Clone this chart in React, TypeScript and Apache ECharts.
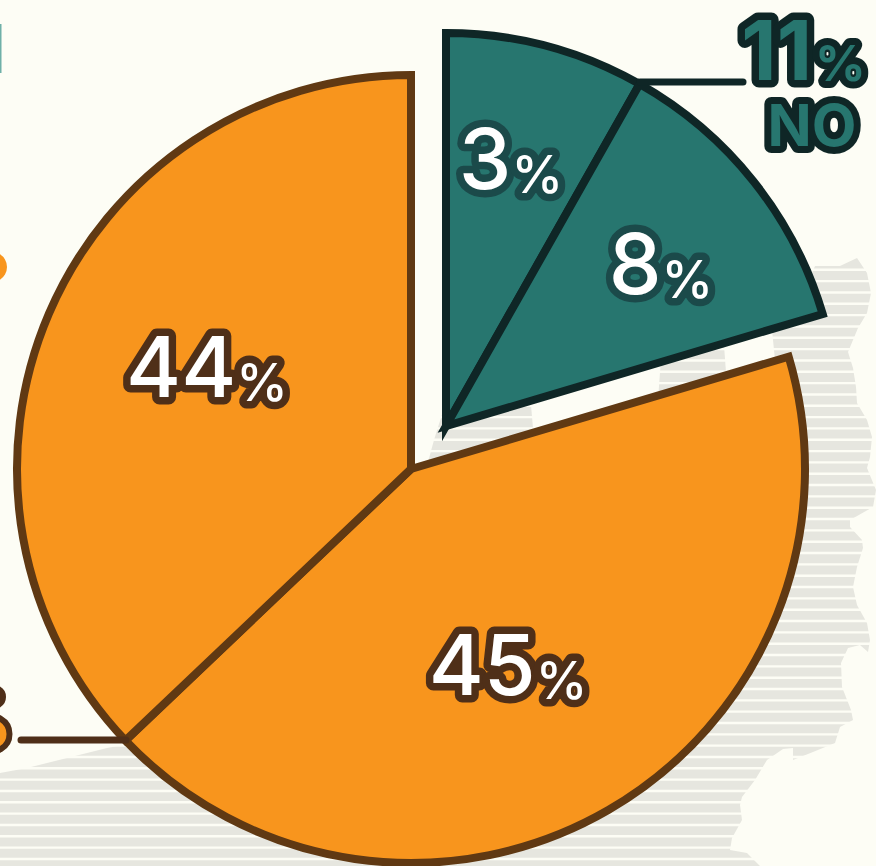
import React, { useEffect, useRef } from "react";
import * as echarts from "echarts";

// Printed percentages
const noLabels = [3, 8];
const yesLabels = [45, 44];
const noNames = ["No, part A", "No, part B"];
const yesNames = ["Yes, part A", "Yes, part B"];
// Share of the circle each wedge really occupies in the picture (the drawing is not to scale)
const noShares = [8.2, 12.2];
const yesShares = [42.5, 37.1];
const totalNumber = "11";
const totalUnit = "%";
const totalName = "NO";

const BG = "#fdfdf5";
const TEAL = "#27766f";
const TEAL_DARK = "#0f2626";
const TEAL_TEXT = "#1b4a4a";
const ORANGE = "#f8951d";
const BROWN = "#603913";
const BROWN_DARK = "#4f2f18";
const GREY = "#e6e6df";
const FONT = "Inter, 'Noto Sans', sans-serif";

const silhouetteMain = [
  [772, 330], [800, 300], [815, 266], [840, 266], [857, 258], [867, 273], [871, 293], [867, 313],
  [858, 328], [848, 352], [853, 368], [856, 387], [857, 403], [867, 420], [872, 437], [870, 457],
  [867, 468], [876, 490], [873, 507], [850, 520], [850, 527], [862, 540], [863, 548], [857, 567],
  [853, 587], [857, 605], [867, 623], [870, 640], [868, 652], [860, 645], [848, 648], [841, 663],
  [842, 687], [851, 710], [853, 720], [840, 727], [835, 743], [813, 752], [793, 760], [793, 748],
  [783, 749], [767, 760], [755, 780], [742, 797], [740, 805], [742, 820], [732, 838], [730, 850],
  [747, 853], [760, 866], [0, 866], [0, 773], [27, 768], [107, 748], [123, 745], [400, 600], [775, 360],
];
const silhouetteMiddle = [[662, 345], [724, 345], [728, 400], [658, 400]];
const silhouetteLeft = [[445, 405], [531, 405], [534, 440], [428, 462], [434, 440]];

function pieLabel(color: string, labels: number[], spots: number[][]) {
  return {
    label: {
      show: true,
      position: "inside" as const,
      formatter: (p: any) => `{n|${labels[p.dataIndex]}}{p|%}`,
      rich: {
        n: { fontFamily: FONT, fontSize: 84, fontWeight: 500, color: "#fff", textBorderColor: color, textBorderWidth: 15, lineHeight: 84 },
        p: { fontFamily: FONT, fontSize: 52, fontWeight: 500, color: "#fff", textBorderColor: color, textBorderWidth: 15, lineHeight: 70, verticalAlign: "bottom" },
      },
    },
    labelLine: { show: false },
    labelLayout: (p: any) => ({ x: spots[p.dataIndex][0], y: spots[p.dataIndex][1], align: "center", verticalAlign: "middle" }),
  };
}

export default function App() {
  const ref = useRef<HTMLDivElement>(null);
  useEffect(() => {
    document.body.style.margin = "0";
    const chart = echarts.init(ref.current!, undefined, { renderer: "svg" });
    const stripes: any[] = [];
    for (let k = 0; k < 56; k++) {
      const y = 269.8 + k * 11.33;
      stripes.push({ type: "line", z: 1, silent: true, shape: { x1: 0, y1: y, x2: 876, y2: y }, style: { stroke: BG, lineWidth: 2.4 } });
    }
    const startNo = 90;
    const noSpan = (noShares[0] + noShares[1]) * 3.6;
    const boundary = startNo - noSpan;
    const roundStrokes = () => {
      ref.current?.querySelectorAll("text").forEach((t) => {
        t.setAttribute("stroke-linejoin", "round");
        t.setAttribute("stroke-linecap", "round");
        t.setAttribute("paint-order", "stroke");
      });
    };
    chart.on("finished", roundStrokes);
    chart.setOption({
      animation: false,
      backgroundColor: BG,
      graphic: [
        ...[silhouetteMain, silhouetteMiddle, silhouetteLeft].map((points) => ({
          type: "polygon", z: 0, silent: true, shape: { points }, style: { fill: GREY },
        })),
        ...stripes,
        { type: "rect", z: 1, silent: true, shape: { x: 0, y: 24, width: 1.5, height: 49 }, style: { fill: "#6fb0a8" } },
        { type: "circle", z: 1, silent: true, shape: { cx: -8, cy: 734, r: 17.5 }, style: { fill: ORANGE, stroke: BROWN_DARK, lineWidth: 6 } },
        { type: "circle", z: 1, silent: true, shape: { cx: -8, cy: 267, r: 15 }, style: { fill: ORANGE } },
        { type: "circle", z: 1, silent: true, shape: { cx: -6, cy: 697, r: 9 }, style: { fill: ORANGE, stroke: BROWN_DARK, lineWidth: 6 } },
        { type: "line", z: 10, silent: true, shape: { x1: 21, y1: 740, x2: 126, y2: 740 }, style: { stroke: BROWN_DARK, lineWidth: 7, lineCap: "round" } },
        { type: "line", z: 10, silent: true, shape: { x1: 640, y1: 82, x2: 743, y2: 82 }, style: { stroke: TEAL_DARK, lineWidth: 7, lineCap: "round" } },
        {
          type: "text", z: 10, silent: true, x: 812, y: 91,
          style: { text: totalNumber, font: `700 82px ${FONT}`, fill: TEAL, stroke: TEAL_DARK, lineWidth: 15, textAlign: "right", textVerticalAlign: "bottom", strokeFirst: true },
        },
        {
          type: "text", z: 10, silent: true, x: 815, y: 88,
          style: { text: totalUnit, font: `700 50px ${FONT}`, fill: TEAL, stroke: TEAL_DARK, lineWidth: 14, textAlign: "left", textVerticalAlign: "bottom", strokeFirst: true },
        },
        {
          type: "text", z: 10, silent: true, x: 812, y: 125,
          style: { text: totalName, font: `700 58px ${FONT}`, fill: TEAL, stroke: TEAL_DARK, lineWidth: 14, textAlign: "center", textVerticalAlign: "middle", strokeFirst: true },
        },
      ],
      series: [
        {
          type: "pie",
          silent: true,
          center: [446, 426],
          radius: [0, 393],
          startAngle: startNo,
          endAngle: boundary,
          avoidLabelOverlap: false,
          itemStyle: { color: TEAL, borderColor: TEAL_DARK, borderWidth: 8, borderJoin: "miter", borderMiterLimit: 10 },
          ...pieLabel(TEAL_TEXT, noLabels, [[511, 158], [661, 263]]),
          data: noShares.map((value, i) => ({ value, name: noNames[i] })),
        },
        {
          type: "pie",
          silent: true,
          center: [411, 469],
          radius: [0, 394],
          startAngle: boundary,
          endAngle: -270,
          avoidLabelOverlap: false,
          itemStyle: { color: ORANGE, borderColor: BROWN, borderWidth: 8, borderJoin: "miter", borderMiterLimit: 10 },
          ...pieLabel(BROWN_DARK, yesLabels, [[508, 664], [207, 366]]),
          data: yesShares.map((value, i) => ({ value, name: yesNames[i] })),
        },
      ],
    });
    roundStrokes();
    return () => chart.dispose();
  }, []);
  return <div ref={ref} style={{ position: "fixed", left: 0, top: 0, width: 876, height: 866, overflow: "hidden" }} />;
}
